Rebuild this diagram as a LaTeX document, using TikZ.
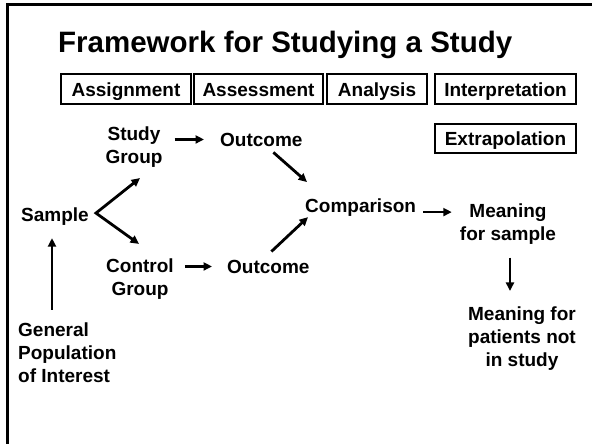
\documentclass[tikz,border=0pt]{standalone}
\usepackage{fontspec}
\setmainfont{Liberation Sans}
\usetikzlibrary{arrows.meta}

\tikzset{
  txt/.style={inner sep=0pt, font=\fontsize{19}{23}\selectfont\bfseries, align=center},
  phase/.style={draw, line width=1.2pt, inner sep=0pt, minimum height=30pt,
    text height=14pt, text depth=0pt, font=\fontsize{19}{23}\selectfont\bfseries},
  arr/.style={line width=2.8pt, -{Triangle[length=8.5pt,width=8pt]}},
}

\begin{document}
\begin{tikzpicture}[x=1pt,y=-1pt]
    \def\W{592} % width
    \def\H{444} % height
    \useasboundingbox (0,0) rectangle (\W,\H);

    % Frame
    \draw[line width=2.2pt] (7.5,\H) -- (7.5,4.5) -- (\W,4.5);

    % Title
    \node[txt, anchor=base west, font=\fontsize{29.5}{34}\selectfont\bfseries] (title) at (58,53) {Framework for Studying a Study};

    % Phase boxes
    \node[phase, minimum width=130pt] (assign) at (126,89) {Assignment};
    \node[phase, minimum width=129pt] (assess) at (258.5,89) {Assessment};
    \node[phase, minimum width=100pt] (analys) at (377,89) {Analysis};
    \node[phase, minimum width=141pt] (interp) at (505.5,89) {Interpretation};
    \node[phase, minimum width=141pt, minimum height=29pt] (extrap) at (505.5,138.5) {Extrapolation};

    % Steps
    \node[txt, anchor=base west] (sample) at (21,221) {Sample};
    \node[txt] (studygrp) at (134,147.5) {Study\\Group};
    \node[txt] (ctrlgrp) at (140,279.5) {Control\\Group};
    \node[txt, anchor=base west] (outtop) at (220,146) {Outcome};
    \node[txt, anchor=base west] (outbot) at (227,273) {Outcome};
    \node[txt, anchor=base west] (compar) at (305,212) {Comparison};
    \node[txt] (meaning) at (508,224) {Meaning\\for sample};
    \node[txt] (patients) at (522,339) {Meaning for\\patients not\\in study};
    \node[txt, anchor=west, align=left] (general) at (18,353) {General\\Population\\of Interest};

    % Arrows
    \coordinate (fork) at ([xshift=7pt,yshift=3pt]sample.east);
    \draw[arr, shorten <=13pt, shorten >=13pt] ([xshift=-3pt]sample.south |- general.north) -- ([xshift=-3pt]sample.south);
    \draw[line width=2.8pt, {Triangle[length=8.5pt,width=8pt]}-{Triangle[length=8.5pt,width=8pt]}]
        ([xshift=6pt,yshift=-10pt]studygrp.south) -- (fork) -- ([xshift=-1pt,yshift=15pt]ctrlgrp.north);
    \draw[arr, shorten <=12pt, shorten >=16pt] (studygrp.east |- outtop) -- (outtop);
    \draw[arr, shorten <=11pt, shorten >=15pt] (ctrlgrp.east |- outbot) -- (outbot);
    \draw[arr] ([xshift=12pt,yshift=-6pt]outtop.south) -- ([xshift=2pt,yshift=16pt]compar.north west);
    \draw[arr] ([xshift=3pt,yshift=8pt]outbot.north) -- ([xshift=3pt,yshift=-1pt]compar.south west);
    \draw[arr, shorten <=7pt, shorten >=8pt] ([yshift=-5pt]compar.east) -- ([yshift=-5pt]meaning.west |- compar.east);
    \draw[arr, shorten <=13pt, shorten >=16pt] ([xshift=2pt]meaning.south) -- ([xshift=2pt]meaning.south |- patients.north);
\end{tikzpicture}
\end{document}
